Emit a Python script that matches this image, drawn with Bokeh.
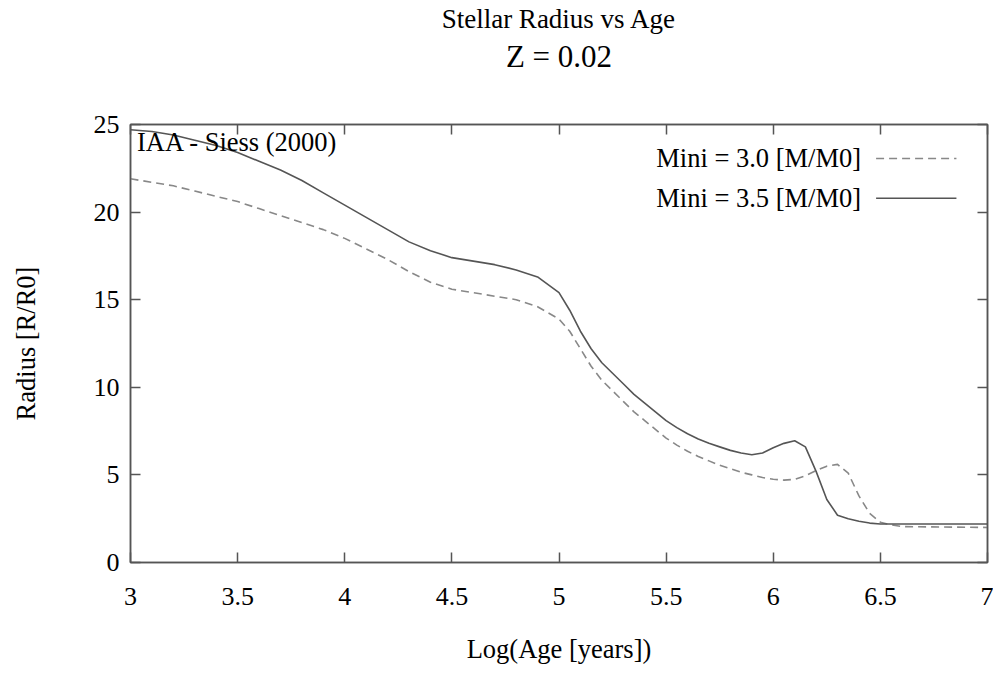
from bokeh.plotting import figure
from bokeh.models import Label, LinearAxis, FixedTicker, Arrow, Title
from bokeh.embed import file_html
from bokeh.resources import INLINE

# Data
age_35 = [3.0, 3.1, 3.2, 3.3, 3.4, 3.5, 3.6, 3.7, 3.8, 3.9, 4.0, 4.1, 4.2, 4.3, 4.4, 4.5,
          4.6, 4.7, 4.8, 4.9, 5.0, 5.05, 5.1, 5.15, 5.2, 5.25, 5.3, 5.35, 5.4, 5.45, 5.5,
          5.55, 5.6, 5.65, 5.7, 5.75, 5.8, 5.85, 5.9, 5.95, 6.0, 6.05, 6.1, 6.15, 6.2,
          6.25, 6.3, 6.35, 6.4, 6.45, 6.5, 6.6, 7.0]
rad_35 = [24.7, 24.6, 24.4, 24.1, 23.8, 23.4, 22.9, 22.4, 21.8, 21.1, 20.4, 19.7, 19.0,
          18.3, 17.8, 17.4, 17.2, 17.0, 16.7, 16.3, 15.4, 14.4, 13.2, 12.2, 11.4, 10.8,
          10.2, 9.6, 9.1, 8.6, 8.1, 7.7, 7.35, 7.05, 6.8, 6.6, 6.4, 6.25, 6.15, 6.25,
          6.55, 6.8, 6.95, 6.6, 5.2, 3.6, 2.7, 2.5, 2.35, 2.25, 2.2, 2.2, 2.2]
age_30 = [3.0, 3.1, 3.2, 3.3, 3.4, 3.5, 3.6, 3.7, 3.8, 3.9, 4.0, 4.1, 4.2, 4.3, 4.4, 4.5,
          4.6, 4.7, 4.8, 4.9, 5.0, 5.05, 5.1, 5.15, 5.2, 5.25, 5.3, 5.35, 5.4, 5.45, 5.5,
          5.55, 5.6, 5.65, 5.7, 5.75, 5.8, 5.85, 5.9, 5.95, 6.0, 6.05, 6.1, 6.15, 6.2,
          6.25, 6.3, 6.35, 6.4, 6.45, 6.5, 6.55, 6.6, 7.0]
rad_30 = [21.9, 21.7, 21.5, 21.2, 20.9, 20.6, 20.2, 19.8, 19.4, 19.0, 18.5, 17.9, 17.3,
          16.6, 16.0, 15.6, 15.4, 15.2, 15.0, 14.6, 13.9, 13.2, 12.2, 11.2, 10.4, 9.8,
          9.2, 8.6, 8.1, 7.6, 7.1, 6.7, 6.35, 6.05, 5.8, 5.55, 5.35, 5.15, 5.0, 4.85,
          4.75, 4.7, 4.75, 4.95, 5.25, 5.5, 5.6, 5.1, 3.8, 2.8, 2.3, 2.15, 2.05, 2.0]
x_ticks = [3, 3.5, 4, 4.5, 5, 5.5, 6, 6.5, 7]
y_ticks = [0, 5, 10, 15, 20, 25]
title_1 = "Stellar Radius vs Age"
title_2 = "Z = 0.02"
series_labels = ["Mini = 3.0 [M/M0]", "Mini = 3.5 [M/M0]"]
note = "IAA - Siess (2000)"

FONT = "Liberation Serif"
FS = "26.5px"
FRAME = "#555555"

p = figure(width=993, height=675, output_backend="svg", toolbar_location=None,
           x_range=(3, 7), y_range=(0, 25), x_axis_location=None, y_axis_location=None,
           min_border_left=130, min_border_right=6, min_border_top=123, min_border_bottom=113)
p.title = None
p.grid.visible = False
p.outline_line_color = FRAME
p.outline_line_width = 1.5
p.background_fill_color = "white"
p.border_fill_color = "white"

def make_axis(ticks, show_labels, label=None):
    ax = LinearAxis(ticker=FixedTicker(ticks=ticks))
    ax.major_tick_in = 10
    ax.major_tick_out = 0
    ax.minor_tick_in = 0
    ax.minor_tick_out = 0
    ax.axis_line_color = FRAME
    ax.axis_line_width = 1.5
    ax.major_tick_line_color = FRAME
    ax.major_tick_line_width = 1.5
    ax.major_label_text_font = FONT
    ax.major_label_text_font_size = "26px"
    ax.major_label_text_color = "black"
    if not show_labels:
        ax.major_label_text_font_size = "0px"
        ax.major_label_text_alpha = 0
    if label:
        ax.axis_label = label
        ax.axis_label_text_font = FONT
        ax.axis_label_text_font_size = FS
        ax.axis_label_text_font_style = "normal"
        ax.axis_label_text_color = "black"
    return ax

xb = make_axis(x_ticks, True, "Log(Age [years])")
xb.major_label_standoff = 25
xb.axis_label_standoff = 26
p.add_layout(xb, "below")
yl = make_axis(y_ticks, True, "Radius [R/R0]")
yl.major_label_standoff = 11
yl.axis_label_standoff = 50
p.add_layout(yl, "left")
xt = make_axis(x_ticks, False)
p.add_layout(xt, "above")
yr = make_axis(y_ticks, False)
p.add_layout(yr, "right")

p.line(age_30, rad_30, line_color="#888888", line_width=1.6, line_dash="8 5")
p.line(age_35, rad_35, line_color="#555555", line_width=1.6)

# titles (first added is nearest the frame); a blank spacer keeps the gap above the frame
p.add_layout(Title(text=" ", text_font=FONT, text_font_size="1px", align="center",
                   standoff=46), "above")
p.add_layout(Title(text=title_2, text_font=FONT, text_font_size="31px", text_font_style="normal",
                   text_color="black", align="center", standoff=4), "above")
p.add_layout(Title(text=title_1, text_font=FONT, text_font_size="27px", text_font_style="normal",
                   text_color="black", align="center", standoff=2), "above")

# note
p.add_layout(Label(x=3.03, y=24.0, text=note, text_font=FONT, text_font_size=FS,
                   text_align="left", text_baseline="middle", text_color="black"))

# legend (text right-aligned, sample to the right)
leg_y = [23.06, 20.79]
for lab, yy, col, dash in zip(series_labels, leg_y, ["#888888", "#555555"], ["8 5", "solid"]):
    p.add_layout(Label(x=6.41, y=yy, text=lab, text_font=FONT, text_font_size=FS,
                       text_align="right", text_baseline="middle", text_color="black"))
    p.add_layout(Arrow(x_start=6.48, y_start=yy, x_end=6.855, y_end=yy, end=None,
                       line_color=col, line_width=1.6, line_dash=dash))

open("out.html", "w").write(file_html(p, INLINE))
